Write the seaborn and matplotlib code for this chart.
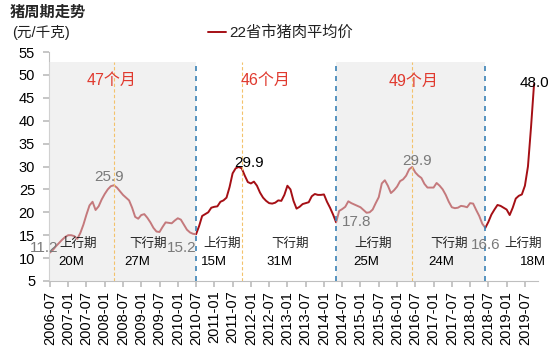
import numpy as np
import pandas as pd
import matplotlib
matplotlib.use("Agg")
import matplotlib.pyplot as plt
import seaborn as sns

# ---------------- data ----------------
price = [
    11.2, 11.8, 12.6, 13.3, 14.0, 14.6, 15.0, 15.0, 14.8, 14.2,
    15.5, 17.3, 19.5, 21.5, 22.3, 20.5, 21.3, 22.8, 24.0, 25.0,
    25.7, 25.9, 25.4, 24.6, 23.8, 23.2, 22.6, 21.0, 19.0, 18.6,
    19.4, 19.6, 18.8, 17.8, 16.6, 15.8, 15.7, 16.8, 17.8, 17.7,
    17.6, 18.2, 18.7, 18.4, 17.3, 16.2, 15.6, 15.3, 15.2, 17.0,
    19.2, 19.6, 20.0, 21.0, 21.2, 21.3, 22.3, 22.6, 23.2, 25.5,
    28.5, 29.6, 29.9, 29.6, 28.0, 26.6, 26.3, 26.7, 25.8, 24.3,
    23.2, 22.5, 22.0, 21.9, 22.1, 22.6, 22.5, 23.8, 25.8, 25.0,
    22.5, 20.8, 21.2, 21.8, 22.0, 22.2, 23.5, 24.0, 23.8, 23.8,
    23.9, 22.3, 21.0, 19.5, 17.8, 20.3, 20.7, 21.2, 22.4, 22.0,
    21.7, 21.4, 21.1, 20.5, 19.9, 20.0, 20.6, 22.0, 23.3, 26.3,
    27.0, 25.8, 24.2, 24.8, 25.6, 26.8, 27.2, 28.0, 29.4, 29.9,
    28.7, 28.0, 27.5, 26.2, 25.4, 25.4, 25.4, 26.4, 25.8, 25.0,
    23.8, 22.3, 21.1, 20.9, 21.0, 21.4, 21.3, 21.1, 22.0, 21.9,
    20.5, 19.2, 17.5, 16.6, 17.9, 19.5, 20.6, 21.6, 21.4, 21.0,
    20.6, 19.4, 21.0, 23.0, 23.6, 23.9, 25.8, 30.0, 38.5, 48.0,
]
months = pd.date_range("2006-07-01", periods=len(price), freq="MS")
series_name = "22省市猪肉平均价"

trough_idx = [48, 94, 143]          # cycle boundaries (blue dashed)
peak_idx = [21, 63, 119]            # cycle peaks (yellow dashed)
shade_start = [0, 94]
shade_end = [48, 143]
cycle_labels = ["47个月", "46个月", "49个月"]
phase_names = ["上行期", "下行期", "上行期", "下行期", "上行期", "下行期", "上行期"]
phase_months = ["20M", "27M", "15M", "31M", "25M", "24M", "18M"]
value_label_idx = [0, 21, 48, 62, 94, 119, 143, 159]

df = pd.DataFrame({"idx": np.arange(len(price)), "price": price})

# ---------------- figure ----------------
sns.set_theme(style="white")
plt.rcParams["font.family"] = ["Liberation Sans", "Noto Sans CJK SC", "DejaVu Sans"]

fig = plt.figure(figsize=(5.5, 3.48), dpi=100)
ax = fig.add_axes([49 / 550, 1 - 281 / 348, (538 - 49) / 550, (281 - 52) / 348])

line_color = "#a50f15"
sns.lineplot(data=df, x="idx", y="price", ax=ax, color=line_color,
             linewidth=1.4, label=series_name, zorder=2)

ax.set_xlim(-0.3, 160.3)
ax.set_ylim(5, 55)
ax.set_yticks(np.arange(5, 56, 5))
xt = np.arange(0, len(price), 6)
ax.set_xticks(xt)
ax.set_xticklabels([months[i].strftime("%Y-%m") for i in xt], rotation=90,
                   fontsize=10.5, color="black")
ax.tick_params(axis="y", labelsize=10.5, colors="black", length=4,
               color="#bfbfbf", left=True, pad=6)
ax.tick_params(axis="x", length=4, color="#bfbfbf", bottom=True, pad=3)
ax.set_xlabel("")
ax.set_ylabel("")
for s in ["top", "right"]:
    ax.spines[s].set_visible(False)
for s in ["left", "bottom"]:
    ax.spines[s].set_color("#bfbfbf")
    ax.spines[s].set_linewidth(0.8)

# shaded cycles (overlay, lightens the line underneath)
for a, b in zip(shade_start, shade_end):
    ax.fill_between([a - 0.3 if a == 0 else a, b], 5, 52.8, color="#e4e4e4",
                    alpha=0.5, lw=0, zorder=3)

for t in trough_idx:
    ax.plot([t, t], [5, 52.8], color="#3b82b5", lw=1.2, ls=(0, (3, 3)), zorder=4)
for p in peak_idx:
    ax.plot([p, p], [5, 52.8], color="#f3c26b", lw=0.8, ls=(0, (3, 2)), zorder=4)

# cycle length labels
cyc_pos = [(20.2, 48.9), (70.8, 48.9), (119.3, 48.6)]
for (x, y), t in zip(cyc_pos, cycle_labels):
    ax.text(x, y, t, color="#e03a2f", fontsize=11.5, ha="center", va="center", zorder=5)

# phase labels
phase_x = [9.3, 32.3, 56.5, 79, 106, 131, 155.5]
month_x = [7, 28.8, 53.8, 75.4, 104, 128.6, 158.5]
for x, t in zip(phase_x, phase_names):
    ax.text(x, 13.1, t, fontsize=9, ha="center", va="center", color="#202020", zorder=5)
for x, t in zip(month_x, phase_months):
    ax.text(x, 9.1, t, fontsize=9.5, ha="center", va="center", color="black", zorder=5)

# value labels at turning points
offsets = [(-6, 5), (-5, 8), (-14, -14), (10, 4), (20, 0), (5, 6), (0, -17), (0, 1)]
colors = ["#7a7a7a", "#7a7a7a", "#7a7a7a", "black", "#7a7a7a", "#7a7a7a", "#7a7a7a", "black"]
for i, (dx, dy), c in zip(value_label_idx, offsets, colors):
    ax.annotate(f"{price[i]:.1f}", xy=(i, price[i]), xytext=(dx, dy),
                textcoords="offset pixels", ha="center", va="center",
                fontsize=11, color=c, zorder=6, annotation_clip=False)

# legend
leg = ax.legend(loc="center left", bbox_to_anchor=(208 / 550, 1 - 33 / 348),
                bbox_transform=fig.transFigure, frameon=False, fontsize=11,
                handlelength=1.2, handletextpad=0.2, borderaxespad=0, borderpad=0)
for t in leg.get_texts():
    t.set_color("#202020")

# titles
fig.text(10 / 550, 1 - 12 / 348, "猪周期走势", fontsize=11, fontweight="bold",
         ha="left", va="center", family=["Noto Sans CJK SC"])
fig.text(12 / 550, 1 - 33 / 348, "(元/千克)", fontsize=10.5, ha="left", va="center",
         family=["Liberation Sans", "Noto Sans CJK SC"], color="#202020")

fig.savefig("out.png", dpi=100)
